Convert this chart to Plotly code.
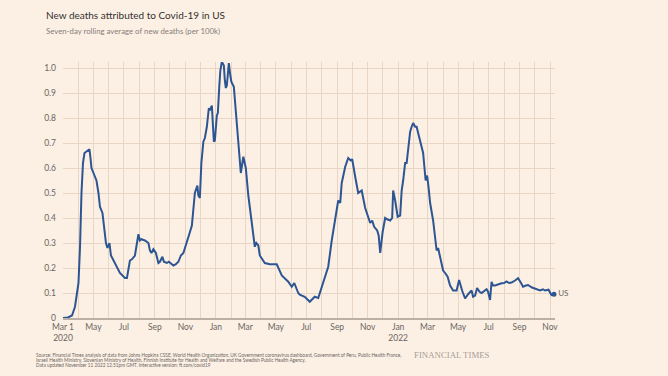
import plotly.graph_objects as go

dates = [
    "2020-03-01", "2020-03-11", "2020-03-19", "2020-03-25", "2020-04-01", "2020-04-04", "2020-04-07", "2020-04-10",
    "2020-04-13", "2020-04-16", "2020-04-18", "2020-04-23", "2020-04-25", "2020-04-27", "2020-05-02", "2020-05-07",
    "2020-05-11", "2020-05-14", "2020-05-19", "2020-05-22", "2020-05-26", "2020-05-29", "2020-06-02", "2020-06-05",
    "2020-06-10", "2020-06-15", "2020-06-23", "2020-07-03", "2020-07-07", "2020-07-13", "2020-07-17", "2020-07-23",
    "2020-07-27", "2020-07-30", "2020-08-02", "2020-08-05", "2020-08-12", "2020-08-19", "2020-08-22", "2020-08-25",
    "2020-08-29", "2020-09-03", "2020-09-08", "2020-09-11", "2020-09-16", "2020-09-19", "2020-09-25", "2020-09-29",
    "2020-10-08", "2020-10-13", "2020-10-18", "2020-10-23", "2020-10-28", "2020-11-04", "2020-11-08", "2020-11-14",
    "2020-11-17", "2020-11-20", "2020-11-25", "2020-11-27", "2020-11-30", "2020-12-03", "2020-12-07", "2020-12-10",
    "2020-12-14", "2020-12-17", "2020-12-18", "2020-12-20", "2020-12-24", "2020-12-28", "2020-12-30", "2021-01-03",
    "2021-01-05", "2021-01-08", "2021-01-10", "2021-01-13", "2021-01-17", "2021-01-19", "2021-01-21", "2021-01-23",
    "2021-01-27", "2021-01-30", "2021-02-01", "2021-02-06", "2021-02-12", "2021-02-16", "2021-02-20", "2021-02-25",
    "2021-03-02", "2021-03-07", "2021-03-14", "2021-03-20", "2021-03-23", "2021-03-27", "2021-03-30", "2021-04-09",
    "2021-04-19", "2021-05-03", "2021-05-13", "2021-05-21", "2021-05-26", "2021-06-02", "2021-06-07", "2021-06-15",
    "2021-06-18", "2021-06-28", "2021-07-08", "2021-07-18", "2021-07-25", "2021-07-29", "2021-08-08", "2021-08-14",
    "2021-08-21", "2021-08-28", "2021-09-03", "2021-09-07", "2021-09-10", "2021-09-17", "2021-09-23", "2021-09-28",
    "2021-10-01", "2021-10-07", "2021-10-13", "2021-10-20", "2021-10-23", "2021-10-27", "2021-11-06", "2021-11-10",
    "2021-11-14", "2021-11-20", "2021-11-23", "2021-11-26", "2021-12-01", "2021-12-06", "2021-12-10", "2021-12-16",
    "2021-12-20", "2021-12-22", "2021-12-26", "2021-12-29", "2021-12-31", "2022-01-05", "2022-01-08", "2022-01-11",
    "2022-01-15", "2022-01-18", "2022-01-20", "2022-01-25", "2022-01-28", "2022-01-31", "2022-02-04", "2022-02-07",
    "2022-02-10", "2022-02-14", "2022-02-20", "2022-02-25", "2022-02-28", "2022-03-03", "2022-03-06", "2022-03-12",
    "2022-03-19", "2022-03-22", "2022-03-26", "2022-04-01", "2022-04-05", "2022-04-10", "2022-04-15", "2022-04-21",
    "2022-04-28", "2022-05-03", "2022-05-09", "2022-05-15", "2022-05-21", "2022-05-25", "2022-05-28", "2022-05-31",
    "2022-06-04", "2022-06-08", "2022-06-13", "2022-06-17", "2022-06-21", "2022-06-27", "2022-06-30", "2022-07-04",
    "2022-07-07", "2022-07-10", "2022-07-14", "2022-07-20", "2022-07-27", "2022-08-01", "2022-08-06", "2022-08-11",
    "2022-08-16", "2022-08-23", "2022-08-29", "2022-09-04", "2022-09-08", "2022-09-14", "2022-09-18", "2022-09-26",
    "2022-10-02", "2022-10-12", "2022-10-18", "2022-10-22", "2022-10-29", "2022-11-01", "2022-11-04", "2022-11-09",
]

deaths_per_100k = [
    0.0, 0.002, 0.01, 0.045, 0.14, 0.28, 0.50, 0.62,
    0.66, 0.665, 0.67, 0.675, 0.64, 0.60, 0.575, 0.55,
    0.50, 0.445, 0.42, 0.36, 0.30, 0.28, 0.30, 0.25,
    0.23, 0.21, 0.18, 0.16, 0.16, 0.23, 0.235, 0.25,
    0.30, 0.335, 0.31, 0.315, 0.31, 0.30, 0.27, 0.26,
    0.275, 0.26, 0.22, 0.225, 0.245, 0.225, 0.22, 0.225,
    0.21, 0.215, 0.225, 0.25, 0.26, 0.30, 0.33, 0.37,
    0.44, 0.50, 0.53, 0.49, 0.48, 0.62, 0.705, 0.72,
    0.765, 0.82, 0.84, 0.83, 0.85, 0.705, 0.71, 0.81,
    0.82, 0.93, 0.99, 1.025, 1.01, 0.95, 0.92, 0.93,
    1.02, 0.97, 0.945, 0.925, 0.785, 0.68, 0.58, 0.645,
    0.60, 0.49, 0.37, 0.285, 0.30, 0.29, 0.25, 0.22,
    0.215, 0.215, 0.17, 0.155, 0.145, 0.125, 0.14, 0.10,
    0.093, 0.085, 0.065, 0.085, 0.08, 0.105, 0.165, 0.205,
    0.31, 0.39, 0.47, 0.46, 0.54, 0.605, 0.64, 0.63,
    0.635, 0.565, 0.50, 0.51, 0.48, 0.44, 0.38, 0.39,
    0.365, 0.35, 0.33, 0.26, 0.345, 0.40, 0.395, 0.39,
    0.40, 0.51, 0.47, 0.42, 0.405, 0.41, 0.51, 0.55,
    0.62, 0.62, 0.66, 0.745, 0.765, 0.78, 0.765, 0.765,
    0.74, 0.71, 0.66, 0.55, 0.57, 0.52, 0.46, 0.39,
    0.27, 0.28, 0.245, 0.19, 0.18, 0.165, 0.13, 0.11,
    0.11, 0.152, 0.11, 0.078, 0.095, 0.105, 0.11, 0.085,
    0.09, 0.12, 0.105, 0.10, 0.105, 0.115, 0.105, 0.072,
    0.145, 0.13, 0.13, 0.135, 0.139, 0.14, 0.146, 0.14,
    0.142, 0.15, 0.159, 0.14, 0.125, 0.13, 0.132, 0.122,
    0.118, 0.11, 0.115, 0.11, 0.113, 0.10, 0.092, 0.095,
]

x_tick_dates = ["2020-03-01", "2020-05-01", "2020-07-01", "2020-09-01", "2020-11-01", "2021-01-01",
                "2021-03-01", "2021-05-01", "2021-07-01", "2021-09-01", "2021-11-01", "2022-01-01",
                "2022-03-01", "2022-05-01", "2022-07-01", "2022-09-01", "2022-11-01"]
x_tick_labels = ["Mar 1<br>2020", "May", "Jul", "Sep", "Nov", "Jan", "Mar", "May", "Jul", "Sep", "Nov",
                 "Jan<br>2022", "Mar", "May", "Jul", "Sep", "Nov"]
y_tick_values = [0, 0.1, 0.2, 0.3, 0.4, 0.5, 0.6, 0.7, 0.8, 0.9, 1.0]
y_tick_labels = ["0", "0.1", "0.2", "0.3", "0.4", "0.5", "0.6", "0.7", "0.8", "0.9", "1.0"]
series_name = "US"

title_text = "New deaths attributed to Covid-19 in US"
subtitle_text = "Seven-day rolling average of new deaths (per 100k)"
footer_lines = [
    "Source: Financial Times analysis of data from Johns Hopkins CSSE, World Health Organization, UK Government coronavirus dashboard, Government of Peru, Public Health France,",
    "Israeli Health Ministry, Slovenian Ministry of Health, Finnish Institute for Health and Welfare and the Swedish Public Health Agency.",
    "Data updated November 11 2022 12.51pm GMT. Interactive version: ft.com/covid19",
]

BG = "#fcf0e5"
LINE = "#2c5592"
GRID = "#e8d5c4"
TEXT = "#6b6560"
FONT = "Lato"

# plot area in pixels
L, R, T, B = 63, 555, 62, 318
W, H = 668, 376
PW, PH = R - L, B - T


def px_x(x):
    return (x - L) / PW


def px_y(y):
    return (B - y) / PH


fig = go.Figure()
fig.add_trace(go.Scatter(
    x=dates, y=deaths_per_100k, mode="lines",
    line=dict(color=LINE, width=2), hoverinfo="skip", showlegend=False,
))
fig.add_trace(go.Scatter(
    x=[dates[-1]], y=[deaths_per_100k[-1]], mode="markers+text",
    marker=dict(color=LINE, size=5), text=[series_name], textposition="middle right",
    textfont=dict(family=FONT, size=8, color=TEXT), hoverinfo="skip", showlegend=False,
    cliponaxis=False,
))

fig.update_layout(
    width=W, height=H,
    paper_bgcolor=BG, plot_bgcolor=BG,
    margin=dict(l=L, r=W - R, t=T, b=H - B),
    font=dict(family=FONT, color=TEXT, size=9),
    xaxis=dict(
        range=["2020-03-01", "2022-11-11"],
        tickmode="array", tickvals=x_tick_dates, ticktext=x_tick_labels,
        showgrid=False, ticks="", zeroline=False,
        showline=True, linecolor="#bcb0a6", linewidth=1.5,
        tickfont=dict(family=FONT, size=8.5, color=TEXT),
        minor=dict(dtick="M1", tick0="2020-03-01", showgrid=True, gridcolor=GRID, gridwidth=1),
        layer="below traces",
    ),
    yaxis=dict(
        range=[0, 1.024],
        tickmode="array", tickvals=y_tick_values, ticktext=y_tick_labels,
        showgrid=True, gridcolor=GRID, gridwidth=1, zeroline=False, ticks="",
        ticklabelstandoff=6,
        tickfont=dict(family=FONT, size=8.5, color=TEXT),
    ),
)

fig.add_annotation(text=title_text, xref="paper", yref="paper",
                   x=px_x(44), y=px_y(15), xanchor="left", yanchor="middle",
                   showarrow=False, font=dict(family=FONT, size=10, color="#33302e"))
fig.add_annotation(text=subtitle_text, xref="paper", yref="paper",
                   x=px_x(44), y=px_y(31), xanchor="left", yanchor="middle",
                   showarrow=False, font=dict(family=FONT, size=7.8, color="#857d77"))
for i, line in enumerate(footer_lines):
    fig.add_annotation(text=line, xref="paper", yref="paper",
                       x=px_x(34), y=px_y(355 + 5.2 * i), xanchor="left", yanchor="middle", align="left",
                       showarrow=False, font=dict(family=FONT, size=4.7, color="#6b6560"))
fig.add_annotation(text="FINANCIAL TIMES", xref="paper", yref="paper",
                   x=px_x(412), y=px_y(355), xanchor="left", yanchor="middle",
                   showarrow=False, font=dict(family="Liberation Serif", size=8.8, color="#a79d95"))

fig.write_html("out.html", config={"displayModeBar": False},
               post_script="document.body.style.margin='0';")
